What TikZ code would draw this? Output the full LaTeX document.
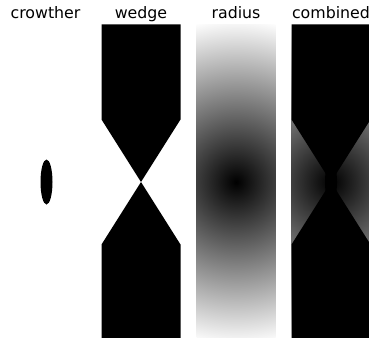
\documentclass[tikz,border=0pt]{standalone}
\usepackage{fontspec}
\setmainfont{DejaVu Sans}
\pgfdeclareradialshading{radgrad}{\pgfpoint{0bp}{0bp}}{color(0bp)=(black); color(25bp)=(white); color(50bp)=(white)}
\begin{document}
\begin{tikzpicture}[x=1pt,y=-1pt,
  title/.style={anchor=base, font=\fontsize{15.8}{18}\selectfont, inner sep=0pt},
  hourglass/.pic={
    \fill[black] (-39.5,-157.5) -- (39.5,-157.5) -- (39.5,-62.5) -- (0,0) -- (-39.5,-62.5) -- cycle;
    \fill[black] (-39.5,157.5) -- (39.5,157.5) -- (39.5,62.5) -- (0,0) -- (-39.5,62.5) -- cycle;
  }]
\useasboundingbox (0,0) rectangle (369,337);
\clip (0,0) rectangle (369,337);
% titles
\node[title] (t1) at (45.5,19) {crowther};
\node[title] (t2) at (141,19) {wedge};
\node[title] (t3) at (236,19) {radius};
\node[title] (t4) at (331,19) {combined};
% crowther
\fill[black] (46.5,182) ellipse [x radius=6pt, y radius=22.5pt];
% wedge
\pic at (141,182) {hourglass};
% radius
\begin{scope}
  \clip (196.5,24.5) rectangle (275.5,339.5);
  \shade[shading=radgrad] (236,182) circle (164pt);
\end{scope}
% combined
\begin{scope}
  \clip (291.5,24.5) rectangle (370.5,339.5);
  \shade[shading=radgrad] (331,182) circle (164pt);
\end{scope}
\pic at (331,182) {hourglass};
\fill[black] (331,182) ellipse [x radius=6pt, y radius=22.5pt];
\end{tikzpicture}
\end{document}
